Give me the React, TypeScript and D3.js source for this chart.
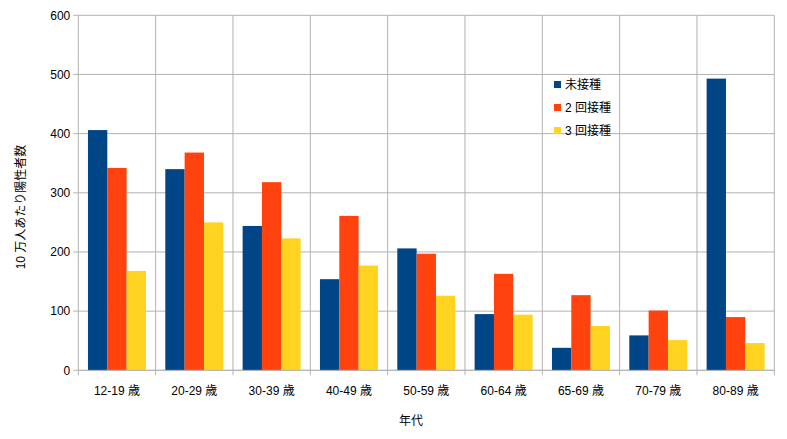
import React from "react";
import * as d3 from "d3";

const categories = ["12-19 歳", "20-29 歳", "30-39 歳", "40-49 歳", "50-59 歳", "60-64 歳", "65-69 歳", "70-79 歳", "80-89 歳"];
const seriesNames = ["未接種", "2 回接種", "3 回接種"];
const unvaccinated = [406, 340, 244, 154, 206, 95, 38, 59, 493];
const twoDoses = [342, 368, 318, 261, 197, 163, 127, 101, 90];
const threeDoses = [168, 250, 223, 177, 126, 94, 75, 51, 46];
const yTicks = [0, 100, 200, 300, 400, 500, 600];
const colors = ["#004586", "#ff420e", "#ffd320"];

const W = 787;
const H = 439;
const left = 78.3;
const right = 774.3;
const top = 15.3;
const bottom = 370.3;
const FONT = "'Liberation Sans', 'Noto Sans CJK JP', sans-serif";

export default function App() {
  const series = [unvaccinated, twoDoses, threeDoses];
  const x = d3.scaleBand<string>().domain(categories).range([left, right]).paddingInner(0).paddingOuter(0);
  const inner = d3.scaleBand<number>().domain([0, 1, 2]).range([0, x.bandwidth()]).paddingOuter(0.5).paddingInner(0);
  const y = d3.scaleLinear().domain([0, 600]).range([bottom, top]);
  const grid = "#b3b3b3";
  const boundaries = categories.map((c) => x(c) as number).concat([right]);

  return (
    <svg width={W} height={H} style={{ position: "absolute", left: 0, top: 0, background: "#fff" }} fontFamily={FONT}>
      <rect x={0} y={0} width={W} height={H} fill="#fff" />
      {yTicks.map((t) => (
        <g key={t}>
          <line x1={left - 5} x2={right} y1={y(t)} y2={y(t)} stroke={grid} strokeWidth={1} />
          <text x={left - 8} y={y(t)} dy="0.35em" textAnchor="end" fontSize={12} fill="#000">{t}</text>
        </g>
      ))}
      {boundaries.map((b, i) => (
        <line key={i} x1={b} x2={b} y1={top} y2={bottom + 5} stroke={grid} strokeWidth={1} />
      ))}
      {categories.map((c, ci) => (
        <g key={c}>
          {series.map((s, si) => (
            <rect
              key={si}
              x={(x(c) as number) + (inner(si) as number)}
              y={y(s[ci])}
              width={inner.bandwidth()}
              height={bottom - y(s[ci])}
              fill={colors[si]}
            />
          ))}
          <text x={(x(c) as number) + x.bandwidth() / 2} y={395} textAnchor="middle" fontSize={12} fill="#000">{c}</text>
        </g>
      ))}
      <line x1={left} x2={right} y1={bottom} y2={bottom} stroke={grid} strokeWidth={1} />
      <text x={411} y={425} textAnchor="middle" fontSize={12} fill="#000">年代</text>
      <text transform={`translate(25,207) rotate(-90)`} textAnchor="middle" fontSize={12} fill="#000">10 万人あたり陽性者数</text>
      {seriesNames.map((n, i) => (
        <g key={n}>
          <rect x={554} y={81 + i * 23} width={7} height={7} fill={colors[i]} />
          <text x={565} y={84.5 + i * 23} dy="0.35em" fontSize={12} fill="#000">{n}</text>
        </g>
      ))}
    </svg>
  );
}
